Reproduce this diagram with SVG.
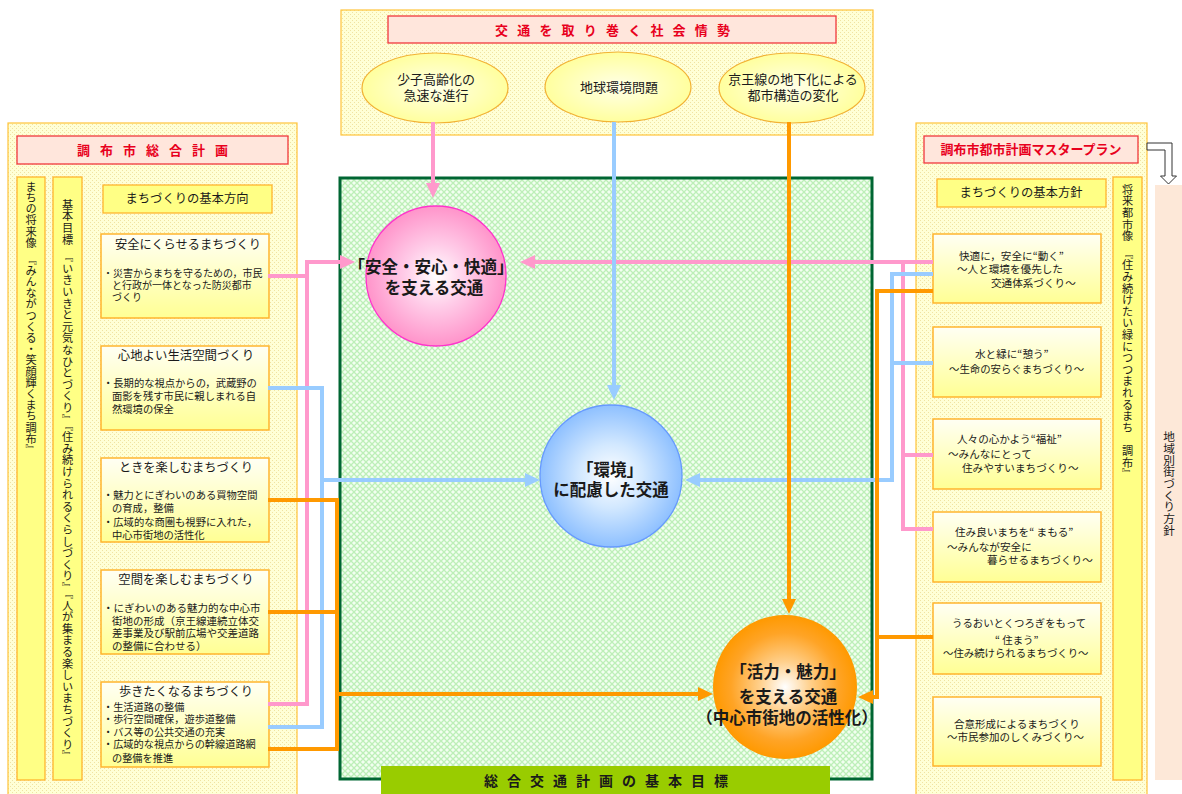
<svg xmlns="http://www.w3.org/2000/svg" width="1182" height="794" viewBox="0 0 1182 794">
<style>
.t{font-family:'Noto Sans CJK JP','Noto Sans CJK SC',sans-serif;fill:#1a1a1a}
.v{writing-mode:vertical-rl}
.ttl{font-family:'Noto Sans CJK JP','Noto Sans CJK SC',sans-serif;font-weight:bold;fill:#E8001C;font-size:13px}
.tbox{fill:#FFE6DC;stroke:#F0383C;stroke-width:1.3}
.panel{fill:url(#pY);stroke:#FFC43A;stroke-width:1.2}
.col{fill:#FFFF85;stroke:#FFB52E;stroke-width:1.3}
.sub{fill:url(#gSub);stroke:#FFB52E;stroke-width:1.5}
.ell{fill:url(#gEll);stroke:#F2B234;stroke-width:1.2}
.big{font-weight:bold;font-size:16.5px;text-anchor:middle}
.ln{fill:none;stroke-width:4;stroke-linejoin:miter}
.pk{stroke:#FF99CC}
.bl{stroke:#99CCFF}
.or{stroke:#FF9900}
</style>
<defs>
<pattern id="pY" width="4" height="4" patternUnits="userSpaceOnUse"><rect width="4" height="4" fill="#FFFFD6"/><rect width="1" height="1" fill="#F0E3A2"/><rect x="2" y="2" width="1" height="1" fill="#F0E3A2"/></pattern>
<pattern id="pG" width="6" height="6" patternUnits="userSpaceOnUse"><rect width="6" height="6" fill="#F2FFF0"/><path d="M0,6 L6,0 M0,0 L6,6" stroke="#BDEFB8" stroke-width="1.3"/></pattern>
<linearGradient id="gSub" x1="0" y1="0" x2="0" y2="1"><stop offset="0" stop-color="#FFFFF4"/><stop offset="1" stop-color="#FFFF94"/></linearGradient>
<radialGradient id="gEll" cx="0.5" cy="0.5" r="0.5"><stop offset="0" stop-color="#FFFFE8"/><stop offset="1" stop-color="#FFFF9E"/></radialGradient>
<radialGradient id="gPk" cx="0.5" cy="0.5" r="0.5"><stop offset="0" stop-color="#FFFFFF"/><stop offset="0.45" stop-color="#FFCCE8"/><stop offset="1" stop-color="#FF94CA"/></radialGradient>
<radialGradient id="gBl" cx="0.5" cy="0.5" r="0.5"><stop offset="0" stop-color="#FFFFFF"/><stop offset="0.45" stop-color="#D2E8FF"/><stop offset="1" stop-color="#8EC0FF"/></radialGradient>
<radialGradient id="gOr" cx="0.5" cy="0.5" r="0.5"><stop offset="0" stop-color="#FFFFFF"/><stop offset="0.35" stop-color="#FFD08C"/><stop offset="0.75" stop-color="#FFA426"/><stop offset="1" stop-color="#FF9900"/></radialGradient>
<marker id="aP" markerUnits="userSpaceOnUse" markerWidth="16" markerHeight="16" refX="1" refY="7" orient="auto"><path d="M0,0 L15,7 L0,14 z" fill="#FF99CC"/></marker>
<marker id="aB" markerUnits="userSpaceOnUse" markerWidth="16" markerHeight="16" refX="1" refY="7" orient="auto"><path d="M0,0 L15,7 L0,14 z" fill="#99CCFF"/></marker>
<marker id="aO" markerUnits="userSpaceOnUse" markerWidth="16" markerHeight="16" refX="1" refY="7" orient="auto"><path d="M0,0 L15,7 L0,14 z" fill="#FF9900"/></marker>
</defs>
<rect width="1182" height="794" fill="#FFFFFF"/>

<g id="social">
<rect class="panel" x="341" y="10" width="532" height="125"/>
<rect class="tbox" x="388" y="16" width="448" height="27"/>
<text class="ttl" x="495" y="35" style="letter-spacing:9.2px">交通を取り巻く社会情勢</text>
</g>
<g id="ell-aging">
<ellipse class="ell" cx="435" cy="88" rx="73" ry="35"/>
<text class="t" x="436" y="84" font-size="13" text-anchor="middle">少子高齢化の</text>
<text class="t" x="436" y="100" font-size="13" text-anchor="middle">急速な進行</text>
</g>
<g id="ell-env">
<ellipse class="ell" cx="618" cy="87" rx="73" ry="35"/>
<text class="t" x="619" y="92" font-size="13" text-anchor="middle">地球環境問題</text>
</g>
<g id="ell-keio">
<ellipse class="ell" cx="792" cy="88" rx="73" ry="35"/>
<text class="t" x="793" y="84" font-size="13" text-anchor="middle">京王線の地下化による</text>
<text class="t" x="793" y="100" font-size="13" text-anchor="middle">都市構造の変化</text>
</g>

<g id="left-plan">
<rect class="panel" x="8" y="123" width="289" height="675"/>
<rect class="tbox" x="17" y="136" width="271" height="28"/>
<text class="ttl" x="77" y="155" style="letter-spacing:10px">調布市総合計画</text>
<rect class="col" x="17" y="177" width="28" height="603"/>
<text class="t v" x="31" y="181" font-size="11.2">まちの将来像　『みんながつくる・笑顔輝くまち調布』</text>
<rect class="col" x="53" y="177" width="29" height="603"/>
<text class="t v" x="67.5" y="199" font-size="11.2" style="letter-spacing:0.4px">基本目標　『いきいきと元気なひとづくり』『住み続けられるくらしづくり』『人が集まる楽しいまちづくり』</text>
<rect class="col" x="103" y="185" width="169" height="28"/>
<text class="t" x="187" y="203" font-size="12.3" text-anchor="middle">まちづくりの基本方向</text>
</g>
<g id="l-box1">
<rect class="sub" x="101" y="234" width="168" height="84"/>
<text class="t" x="188" y="249" font-size="12.2" text-anchor="middle">安全にくらせるまちづくり</text>
<text class="t" x="103" y="277" font-size="10">・災害からまちを守るための，市民</text>
<text class="t" x="112" y="289" font-size="10">と行政が一体となった防災都市</text>
<text class="t" x="112" y="301" font-size="10">づくり</text>
</g>
<g id="l-box2">
<rect class="sub" x="101" y="346" width="168" height="84"/>
<text class="t" x="186" y="360" font-size="12.4" text-anchor="middle">心地よい生活空間づくり</text>
<text class="t" x="103" y="387" font-size="10.3">・長期的な視点からの，武蔵野の</text>
<text class="t" x="112" y="400" font-size="10.3">面影を残す市民に親しまれる自</text>
<text class="t" x="112" y="413" font-size="10.3">然環境の保全</text>
</g>
<g id="l-box3">
<rect class="sub" x="101" y="458" width="168" height="84"/>
<text class="t" x="186" y="472" font-size="12.2" text-anchor="middle">ときを楽しむまちづくり</text>
<text class="t" x="103" y="499" font-size="10.3">・魅力とにぎわいのある買物空間</text>
<text class="t" x="112" y="512" font-size="10.3">の育成，整備</text>
<text class="t" x="103" y="526" font-size="10.3">・広域的な商圏も視野に入れた，</text>
<text class="t" x="112" y="539" font-size="10.3">中心市街地の活性化</text>
</g>
<g id="l-box4">
<rect class="sub" x="101" y="570" width="168" height="84"/>
<text class="t" x="186" y="584" font-size="12.3" text-anchor="middle">空間を楽しむまちづくり</text>
<text class="t" x="103" y="612" font-size="10.5">・にぎわいのある魅力的な中心市</text>
<text class="t" x="112" y="625" font-size="10.5">街地の形成（京王線連続立体交</text>
<text class="t" x="112" y="637" font-size="10.5">差事業及び駅前広場や交差道路</text>
<text class="t" x="112" y="650" font-size="10.5">の整備に合わせる）</text>
</g>
<g id="l-box5">
<rect class="sub" x="101" y="682" width="168" height="85"/>
<text class="t" x="186" y="696" font-size="12.2" text-anchor="middle">歩きたくなるまちづくり</text>
<text class="t" x="103" y="711" font-size="10.2">・生活道路の整備</text>
<text class="t" x="103" y="723" font-size="10.2">・歩行空間確保，遊歩道整備</text>
<text class="t" x="103" y="736" font-size="10.2">・バス等の公共交通の充実</text>
<text class="t" x="103" y="748" font-size="10.2">・広域的な視点からの幹線道路網</text>
<text class="t" x="112" y="762" font-size="10.2">の整備を推進</text>
</g>

<g id="right-plan">
<rect class="panel" x="916" y="123" width="231" height="675"/>
<rect class="tbox" x="924" y="136" width="214" height="27"/>
<text class="ttl" x="1031" y="154" text-anchor="middle">調布市都市計画マスタープラン</text>
<rect class="col" x="937" y="179" width="169" height="28"/>
<text class="t" x="1021" y="197" font-size="12.3" text-anchor="middle">まちづくりの基本方針</text>
<rect class="col" x="1113" y="177" width="29" height="603"/>
<text class="t v" x="1127.5" y="184" font-size="11.2" style="letter-spacing:0.4px">将来都市像　『住み続けたい緑につつまれるまち　調布』</text>
</g>
<g id="r-box1">
<rect class="sub" x="933" y="234" width="168" height="69"/>
<text class="t" x="959" y="260" font-size="10.6">快適に，安全に“動く”</text>
<text class="t" x="957" y="273" font-size="10.6">～人と環境を優先した</text>
<text class="t" x="991" y="287" font-size="10.6">交通体系づくり～</text>
</g>
<g id="r-box2">
<rect class="sub" x="933" y="327" width="168" height="70"/>
<text class="t" x="975" y="358" font-size="10.6">水と緑に“憩う”</text>
<text class="t" x="949" y="373" font-size="10.4">～生命の安らぐまちづくり～</text>
</g>
<g id="r-box3">
<rect class="sub" x="933" y="419" width="168" height="70"/>
<text class="t" x="957" y="443" font-size="10.6">人々の心かよう“福祉”</text>
<text class="t" x="948" y="458" font-size="10.6">～みんなにとって</text>
<text class="t" x="962" y="472" font-size="10.6">住みやすいまちづくり～</text>
</g>
<g id="r-box4">
<rect class="sub" x="933" y="512" width="168" height="70"/>
<text class="t" x="955" y="536" font-size="10.6">住み良いまちを“ まもる”</text>
<text class="t" x="947" y="551" font-size="10.6">～みんなが安全に</text>
<text class="t" x="987" y="564" font-size="10.6">暮らせるまちづくり～</text>
</g>
<g id="r-box5">
<rect class="sub" x="933" y="603" width="168" height="71"/>
<text class="t" x="952" y="627" font-size="10.4">うるおいとくつろぎをもって</text>
<text class="t" x="995" y="644" font-size="10.4">“ 住まう”</text>
<text class="t" x="943" y="657" font-size="10.4">～住み続けられるまちづくり～</text>
</g>
<g id="r-box6">
<rect class="sub" x="933" y="697" width="168" height="69"/>
<text class="t" x="954" y="728" font-size="10.5">合意形成によるまちづくり</text>
<text class="t" x="947" y="741" font-size="10.5">～市民参加のしくみづくり～</text>
</g>

<g id="district">
<rect x="1155" y="185" width="27" height="595" fill="#FDE8D8"/>
<text class="t v" x="1169" y="431" font-size="11.7">地域別街づくり方針</text>
</g>
<g id="block-arrow">
<path d="M1147,143 H1172 V176 H1176.5 L1168.5,184 L1160.5,176 H1165 V150 H1147 Z" fill="#FFFFFF" stroke="#333333" stroke-width="1"/>
</g>

<g id="goal-area">
<rect x="340" y="178" width="532" height="601" fill="url(#pG)" stroke="#006633" stroke-width="3"/>
<rect x="381" y="766" width="449" height="28" fill="#99CC00"/>
<text class="t" x="484" y="786" font-size="14" font-weight="bold" style="letter-spacing:9px">総合交通計画の基本目標</text>
</g>

<g id="c-safe">
<circle cx="436" cy="276" r="70" fill="url(#gPk)" stroke="#FF33CC" stroke-width="1.3"/>
<text class="t big" x="431" y="273">「安全・安心・快適」</text>
<text class="t big" x="434" y="294">を支える交通</text>
</g>
<g id="c-env">
<circle cx="611" cy="476" r="71" fill="url(#gBl)" stroke="#6699FF" stroke-width="1.3"/>
<text class="t big" x="610" y="476">「環境」</text>
<text class="t big" x="611" y="496">に配慮した交通</text>
</g>
<g id="c-vital">
<circle cx="785" cy="687" r="72" fill="url(#gOr)"/>
<text class="t big" x="788" y="678">「活力・魅力」</text>
<text class="t big" x="788" y="703">を支える交通</text>
<text class="t big" x="787" y="724">（中心市街地の活性化）</text>
</g>

<g id="connectors">
<path class="ln pk" d="M268,276 H307"/>
<path class="ln pk" d="M903,262 V529 H933 M903,455 H933"/>
<path class="ln pk" d="M433,122 V184" marker-end="url(#aP)"/>
<path class="ln pk" d="M268,704 H307 V262 H341" marker-end="url(#aP)"/>
<path class="ln pk" d="M933,262 H534" marker-end="url(#aP)"/>
<path class="ln bl" d="M268,388 H322 V480"/>
<path class="ln bl" d="M892,363 H933"/>
<path class="ln bl" d="M614,122 V386" marker-end="url(#aB)"/>
<path class="ln bl" d="M268,727 H322 V480 H526" marker-end="url(#aB)"/>
<path class="ln bl" d="M933,274 H892 V480 H699" marker-end="url(#aB)"/>
<path class="ln or" d="M268,500 H337 V694 M268,612 H337"/>
<path class="ln or" d="M877,637 H933"/>
<path class="ln or" d="M789,122 V600" marker-end="url(#aO)"/>
<path class="ln or" d="M268,749 H337 V694 H699" marker-end="url(#aO)"/>
<path class="ln or" d="M933,291 H877 V697 H872" marker-end="url(#aO)"/>
</g>
</svg>
